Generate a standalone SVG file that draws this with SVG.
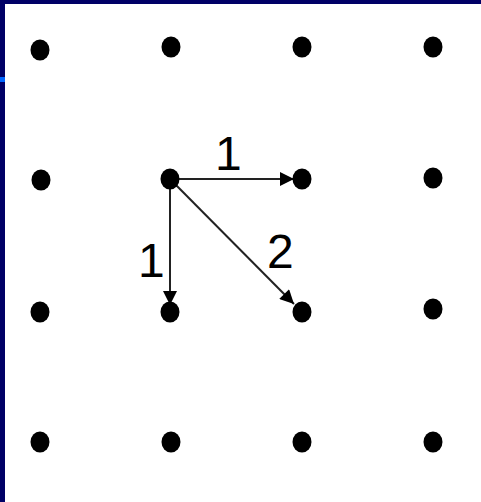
<svg xmlns="http://www.w3.org/2000/svg" width="481" height="502" viewBox="0 0 481 502">
<style>
.dot{fill:#000}
.edge{stroke:#222;stroke-width:2;fill:none;marker-end:url(#ah)}
.lbl{font-family:"Liberation Sans",Arial,sans-serif;font-size:48px;fill:#000}
</style>
<defs>
<marker id="ah" viewBox="0 0 10 10" refX="10" refY="5" markerWidth="8" markerHeight="7" markerUnits="strokeWidth" orient="auto">
<path d="M0,0 L10,5 L0,10 z" fill="#000"/>
</marker>
</defs>
<rect width="481" height="502" fill="#fff"/>
<rect x="0" y="0" width="481" height="4" fill="#000066"/>
<rect x="0" y="0" width="5" height="502" fill="#000066"/>
<rect x="0" y="77" width="5" height="5" fill="#0066ff"/>
<g id="connectors">
<line class="edge" x1="171" y1="179" x2="294" y2="179"/>
<line class="edge" x1="170" y1="180" x2="170" y2="305"/>
<line class="edge" x1="171" y1="180" x2="294" y2="304"/>
</g>
<g id="n00"><ellipse class="dot" cx="40" cy="50" rx="9.5" ry="10.5"/></g>
<g id="n01"><ellipse class="dot" cx="171" cy="47" rx="9.5" ry="10.5"/></g>
<g id="n02"><ellipse class="dot" cx="302" cy="47" rx="9.5" ry="10.5"/></g>
<g id="n03"><ellipse class="dot" cx="433" cy="47" rx="9.5" ry="10.5"/></g>
<g id="n10"><ellipse class="dot" cx="41" cy="180" rx="9.5" ry="10.5"/></g>
<g id="n11"><ellipse class="dot" cx="170" cy="179" rx="9.5" ry="10.5"/></g>
<g id="n12"><ellipse class="dot" cx="302" cy="179" rx="9.5" ry="10.5"/></g>
<g id="n13"><ellipse class="dot" cx="433" cy="178" rx="9.5" ry="10.5"/></g>
<g id="n20"><ellipse class="dot" cx="40" cy="312" rx="9.5" ry="10.5"/></g>
<g id="n21"><ellipse class="dot" cx="170" cy="312" rx="9.5" ry="10.5"/></g>
<g id="n22"><ellipse class="dot" cx="302" cy="312" rx="9.5" ry="10.5"/></g>
<g id="n23"><ellipse class="dot" cx="433" cy="309" rx="9.5" ry="10.5"/></g>
<g id="n30"><ellipse class="dot" cx="40" cy="442" rx="9.5" ry="10.5"/></g>
<g id="n31"><ellipse class="dot" cx="171" cy="442" rx="9.5" ry="10.5"/></g>
<g id="n32"><ellipse class="dot" cx="302" cy="442" rx="9.5" ry="10.5"/></g>
<g id="n33"><ellipse class="dot" cx="433" cy="442" rx="9.5" ry="10.5"/></g>
<g id="labels">
<text class="lbl" x="215" y="170">1</text>
<text class="lbl" x="138" y="277">1</text>
<text class="lbl" x="267" y="268">2</text>
</g>
</svg>
